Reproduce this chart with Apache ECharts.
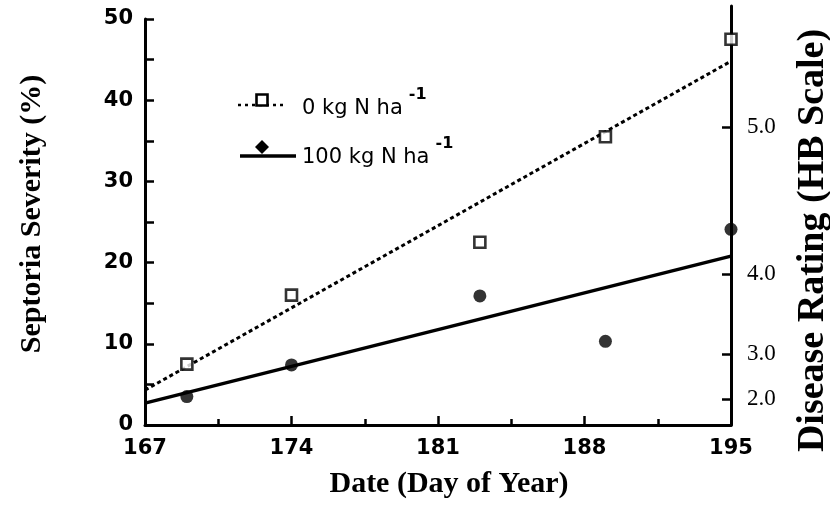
<!DOCTYPE html>
<html><head><meta charset="utf-8">
<script src="https://cdn.jsdelivr.net/npm/echarts@6/dist/echarts.min.js"></script>
<style>html,body{margin:0;padding:0;background:#fff}#c{width:830px;height:515px}</style>
</head><body><div id="c"></div>
<script>
// ---- data ----
const days = [169, 174, 183, 189, 195];
const sev0N = [7.5, 16.0, 22.5, 35.5, 47.5];
const sev100N = [3.5, 7.4, 15.9, 10.3, 24.1];
const fitDays = [167, 195];
const fit0N = [4.3, 44.8];
const fit100N = [2.7, 20.8];
const xMajorTicks = [167, 174, 181, 188, 195];
const xMinorTicks = [170.5, 177.5, 184.5, 191.5];
const hbTickPos = [3.2, 8.7, 18.6, 36.7];
const hbTickLabels = ['2.0', '3.0', '4.0', '5.0'];
const legendNames = ['0 kg N ha', '100 kg N ha'];
const legendSup = '-1';

// ---- layout ----
const G = {left: 145, right: 99, top: 19, bottom: 90};
const gridTopRight = 6;
const plotH = 515 - G.top - G.bottom;
const yMaxRight = 50 * (515 - gridTopRight - G.bottom) / plotH;

const chart = echarts.init(document.getElementById('c'), null, {renderer: 'canvas'});
const black = '#000';
const tickFont = {fontFamily: 'DejaVu Sans', fontWeight: 'bold', fontSize: 21, color: black};

const pairs = (xs, ys) => xs.map((x, i) => [x, ys[i]]);

chart.setOption({
  animation: false,
  backgroundColor: '#fff',
  grid: [
    {left: G.left, right: G.right, top: G.top, bottom: G.bottom, outerBoundsMode: 'none', containLabel: false},
    {left: G.left, right: G.right, top: gridTopRight, bottom: G.bottom, outerBoundsMode: 'none', containLabel: false}
  ],
  xAxis: [
    {
      type: 'value', gridIndex: 0, position: 'bottom', min: 167, max: 195,
      axisLine: {show: true, onZero: false, lineStyle: {color: black, width: 3}},
      axisTick: {show: true, inside: true, length: 9, lineStyle: {color: black, width: 2.5}, customValues: xMajorTicks},
      axisLabel: Object.assign({margin: 13, customValues: xMajorTicks}, tickFont),
      splitLine: {show: false},
      name: 'Date (Day of Year)', nameLocation: 'middle', nameGap: 44,
      nameTextStyle: {fontFamily: 'Liberation Serif', fontWeight: 'bold', fontSize: 30, color: black, padding: [0, 0, 0, 22], verticalAlign: 'top'}
    },
    {
      type: 'value', gridIndex: 0, position: 'bottom', min: 167, max: 195,
      axisLine: {show: false, onZero: false},
      axisTick: {show: true, inside: true, length: 6, lineStyle: {color: black, width: 2.5}, customValues: xMinorTicks},
      axisLabel: {show: false},
      splitLine: {show: false}
    },
    {type: 'value', gridIndex: 1, min: 167, max: 195, show: false}
  ],
  yAxis: [
    {
      type: 'value', gridIndex: 0, position: 'left', min: 0, max: 50, interval: 5,
      axisLine: {show: true, onZero: false, lineStyle: {color: black, width: 3}},
      axisTick: {show: true, inside: true, length: 9, lineStyle: {color: black, width: 2.5}},
      axisLabel: Object.assign({margin: 12, formatter: v => (v % 10 === 0 ? String(v) : '')}, tickFont),
      splitLine: {show: false},
      name: 'Septoria Severity (%)', nameLocation: 'middle', nameGap: 98, nameRotate: 90,
      nameTextStyle: {fontFamily: 'Liberation Serif', fontWeight: 'bold', fontSize: 30, color: black, padding: [0, 0, 0, 16]}
    },
    {
      type: 'value', gridIndex: 1, position: 'right', min: 0, max: yMaxRight,
      axisLine: {show: true, onZero: false, lineStyle: {color: black, width: 3}},
      axisTick: {show: true, inside: true, length: 9, lineStyle: {color: black, width: 2.5}, customValues: hbTickPos},
      axisLabel: {
        margin: 16, customValues: hbTickPos,
        formatter: v => { const i = hbTickPos.findIndex(p => Math.abs(p - v) < 1e-6); return i >= 0 ? hbTickLabels[i] : ''; },
        fontFamily: 'Liberation Serif', fontSize: 23, color: black
      },
      splitLine: {show: false},
      name: 'Disease Rating (HB Scale)', nameLocation: 'middle', nameGap: 63, nameRotate: 90,
      nameTextStyle: {fontFamily: 'Liberation Serif', fontWeight: 'bold', fontSize: 38, color: black, padding: [0, 50, 0, 0]}
    }
  ],
  series: [
    {
      name: legendNames[0] + ' fit', type: 'line', xAxisIndex: 0, yAxisIndex: 0,
      data: pairs(fitDays, fit0N), showSymbol: false, symbol: 'none',
      lineStyle: {color: black, width: 3, type: [4, 3]}, z: 2
    },
    {
      name: legendNames[1] + ' fit', type: 'line', xAxisIndex: 0, yAxisIndex: 0,
      data: pairs(fitDays, fit100N), showSymbol: false, symbol: 'none',
      lineStyle: {color: black, width: 3.5}, z: 2
    },
    {
      name: legendNames[0], type: 'scatter', xAxisIndex: 0, yAxisIndex: 0,
      data: pairs(days, sev0N), symbol: 'rect', symbolSize: 11,
      itemStyle: {color: '#fff', borderColor: black, borderWidth: 2.6}, z: 5
    },
    {
      name: legendNames[1], type: 'scatter', xAxisIndex: 0, yAxisIndex: 0,
      data: pairs(days, sev100N), symbol: 'circle', symbolSize: 13,
      itemStyle: {color: black}, z: 5
    }
  ],
  graphic: [
    {type: 'line', shape: {x1: 238, y1: 105, x2: 286, y2: 105}, style: {stroke: black, lineWidth: 2.5, lineDash: [3, 4]}},
    {type: 'rect', shape: {x: 256.5, y: 94.5, width: 11, height: 11}, style: {fill: '#fff', stroke: black, lineWidth: 2.6}},
    {type: 'text', x: 302, y: 103, style: {
      text: '{a|' + legendNames[0] + '}{s|' + legendSup + '}', verticalAlign: 'middle',
      rich: {a: {fontFamily: 'DejaVu Sans', fontSize: 21, fill: black, verticalAlign: 'bottom', lineHeight: 32},
             s: {fontFamily: 'DejaVu Sans', fontSize: 16, fontWeight: 'bold', fill: black, verticalAlign: 'top', padding: [0, 0, 0, 6]}}
    }},
    {type: 'line', shape: {x1: 240, y1: 156, x2: 296, y2: 156}, style: {stroke: black, lineWidth: 3.5}},
    {type: 'polygon', shape: {points: [[262, 140], [269, 147], [262, 154], [255, 147]]}, style: {fill: black}},
    {type: 'text', x: 302, y: 152, style: {
      text: '{a|' + legendNames[1] + '}{s|' + legendSup + '}', verticalAlign: 'middle',
      rich: {a: {fontFamily: 'DejaVu Sans', fontSize: 21, fill: black, verticalAlign: 'bottom', lineHeight: 32},
             s: {fontFamily: 'DejaVu Sans', fontSize: 16, fontWeight: 'bold', fill: black, verticalAlign: 'top', padding: [0, 0, 0, 6]}}
    }}
  ]
});
</script></body></html>
